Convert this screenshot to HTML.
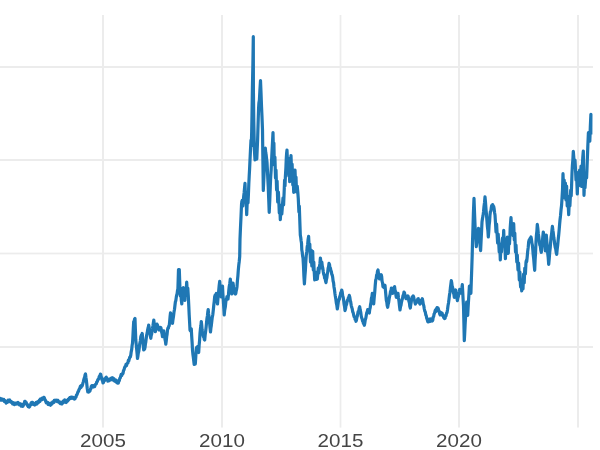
<!DOCTYPE html>
<html lang="en">
<head>
<meta charset="utf-8">
<title>Price chart</title>
<style>
html,body{margin:0;padding:0;background:#fff;}
body{width:600px;height:450px;overflow:hidden;font-family:"Liberation Sans",sans-serif;}
svg{display:block;will-change:transform;}
.series{fill:none;stroke:#1f77b4;stroke-width:3.2;stroke-linejoin:round;stroke-linecap:butt;}
.ticks text{font-family:"Liberation Sans",sans-serif;font-size:18.9px;fill:#454545;}
</style>
</head>
<body>
<svg width="600" height="450" viewBox="0 0 600 450">
<rect width="600" height="450" fill="#ffffff"/>
<g class="grid"><g fill="#f8f8f8"><rect x="339" y="15" width="3" height="412.5"/><rect x="0" y="252" width="593" height="3"/></g><g fill="#ececec"><rect x="102" y="15" width="2" height="412.5"/><rect x="221" y="15" width="2" height="412.5"/><rect x="340" y="15" width="1" height="412.5"/><rect x="458" y="15" width="2" height="412.5"/><rect x="577" y="15" width="2" height="412.5"/><rect x="0" y="66" width="593" height="2"/><rect x="0" y="159" width="593" height="2"/><rect x="0" y="253" width="593" height="1"/><rect x="0" y="346" width="593" height="2"/></g></g>
<path class="series" d="M-3.0,397.0 L-2.6,396.7 L-2.1,398.1 L-1.7,397.2 L-1.3,398.7 L-0.9,397.9 L-0.4,399.5 L0.0,399.2 L0.5,398.8 L0.9,400.1 L1.4,399.0 L1.9,400.2 L2.4,399.1 L2.8,400.1 L3.3,399.7 L3.8,399.5 L4.3,401.4 L4.8,400.5 L5.2,401.8 L5.7,401.0 L6.2,403.1 L6.7,402.5 L7.2,401.4 L7.7,402.2 L8.2,400.2 L8.7,401.1 L9.2,400.3 L9.7,399.9 L10.2,401.7 L10.7,401.2 L11.2,402.5 L11.7,402.5 L12.2,402.2 L12.6,403.9 L13.1,402.7 L13.6,404.2 L14.1,402.9 L14.5,404.6 L15.0,404.2 L15.5,403.2 L16.0,404.1 L16.5,403.1 L17.0,403.8 L17.5,403.0 L18.0,402.5 L18.4,404.2 L18.9,403.3 L19.4,404.9 L19.8,403.7 L20.3,405.2 L20.8,404.0 L21.2,406.1 L21.7,405.5 L22.2,404.9 L22.8,406.3 L23.3,405.5 L23.8,403.6 L24.2,403.3 L24.7,401.3 L25.2,401.3 L25.7,403.2 L26.2,402.6 L26.7,404.2 L27.2,405.1 L27.7,404.8 L28.2,406.6 L28.7,406.0 L29.2,407.0 L29.7,406.6 L30.2,404.9 L30.7,404.9 L31.2,402.7 L31.7,402.5 L32.2,403.6 L32.7,402.5 L33.2,404.4 L33.7,403.5 L34.2,404.7 L34.7,405.1 L35.1,403.3 L35.6,404.4 L36.1,402.5 L36.6,404.1 L37.0,402.1 L37.5,402.5 L38.0,402.9 L38.4,401.3 L38.9,402.1 L39.4,400.1 L39.9,401.5 L40.3,399.2 L40.8,399.7 L41.3,399.9 L41.8,398.4 L42.3,399.6 L42.7,398.1 L43.2,398.8 L43.7,397.3 L44.2,397.5 L44.7,399.2 L45.3,400.0 L45.8,401.7 L46.3,402.9 L46.7,401.9 L47.2,403.2 L47.7,402.4 L48.1,404.3 L48.6,403.3 L49.1,404.7 L49.5,403.7 L50.0,404.7 L50.5,405.2 L50.9,403.1 L51.4,404.4 L51.9,402.6 L52.4,403.4 L52.8,401.8 L53.3,402.0 L53.8,402.6 L54.3,400.3 L54.8,401.4 L55.3,400.2 L55.8,400.3 L56.3,401.0 L56.8,400.2 L57.3,401.6 L57.8,400.3 L58.3,401.3 L58.7,402.2 L59.2,401.6 L59.6,402.9 L60.0,402.1 L60.4,403.7 L60.9,402.4 L61.3,403.7 L61.8,404.0 L62.3,402.1 L62.8,403.0 L63.2,401.0 L63.7,401.6 L64.2,400.8 L64.7,399.9 L65.2,402.1 L65.7,400.3 L66.2,402.5 L66.7,401.7 L67.2,400.5 L67.7,400.9 L68.2,399.3 L68.7,399.6 L69.2,398.3 L69.7,397.7 L70.1,398.5 L70.6,397.4 L71.1,398.4 L71.6,397.1 L72.0,398.1 L72.5,397.5 L73.0,397.4 L73.5,398.5 L74.0,397.8 L74.5,399.1 L75.0,398.7 L75.5,397.3 L76.0,397.2 L76.5,394.9 L77.0,394.7 L77.5,393.3 L78.0,391.8 L78.5,391.4 L79.0,389.4 L79.5,389.0 L80.0,387.5 L80.5,386.1 L81.0,387.5 L81.5,385.4 L82.0,386.2 L82.5,385.0 L82.9,383.1 L83.3,381.9 L83.8,379.6 L84.2,378.3 L84.6,377.2 L85.1,374.7 L85.5,373.9 L85.9,377.3 L86.3,380.0 L86.7,383.3 L87.2,388.2 L87.8,392.0 L88.2,391.0 L88.7,392.0 L89.1,390.5 L89.6,391.4 L90.0,390.8 L90.4,389.1 L90.8,389.0 L91.3,386.4 L91.7,385.8 L92.2,386.9 L92.7,385.6 L93.2,387.0 L93.7,386.0 L94.2,386.7 L94.7,386.6 L95.3,384.4 L95.8,384.2 L96.3,383.9 L96.8,381.7 L97.3,381.6 L97.8,379.5 L98.3,379.2 L98.7,379.1 L99.2,376.6 L99.6,377.1 L100.0,375.5 L100.4,374.1 L100.8,374.5 L101.2,376.8 L101.7,377.6 L102.1,380.1 L102.6,380.9 L103.0,383.0 L103.5,382.4 L103.9,380.9 L104.4,380.7 L104.9,378.9 L105.3,379.1 L105.8,377.5 L106.3,377.2 L106.8,379.4 L107.3,378.6 L107.8,381.1 L108.3,380.8 L108.8,379.4 L109.3,380.7 L109.8,379.2 L110.2,379.9 L110.7,378.5 L111.2,379.2 L111.7,378.3 L112.2,377.7 L112.6,379.9 L113.1,378.1 L113.5,380.2 L114.0,378.8 L114.4,380.9 L114.9,379.8 L115.3,381.4 L115.8,380.8 L116.3,380.3 L116.8,382.6 L117.3,381.3 L117.8,383.2 L118.3,383.0 L118.8,381.2 L119.3,380.8 L119.8,378.3 L120.3,377.9 L120.8,375.8 L121.2,374.4 L121.7,375.6 L122.1,374.0 L122.5,374.2 L123.0,373.4 L123.5,370.6 L124.0,370.0 L124.5,367.9 L125.0,366.7 L125.5,366.5 L126.0,364.4 L126.5,365.5 L127.0,363.5 L127.5,363.3 L127.9,363.0 L128.3,360.4 L128.8,360.9 L129.2,359.2 L129.7,357.3 L130.3,357.0 L130.8,355.0 L131.2,351.8 L131.7,349.4 L132.1,345.6 L132.5,343.3 L132.9,336.6 L133.3,328.5 L133.7,321.7 L134.1,321.5 L134.6,319.0 L135.0,318.5 L135.4,329.8 L135.8,340.0 L136.2,344.1 L136.7,349.5 L137.1,353.6 L137.5,358.5 L137.9,356.3 L138.3,353.1 L138.8,351.3 L139.2,348.3 L139.7,344.1 L140.3,341.0 L140.8,336.7 L141.3,335.2 L141.7,335.4 L142.2,333.5 L142.7,338.6 L143.2,344.9 L143.7,350.0 L144.1,348.5 L144.6,349.2 L145.0,347.5 L145.4,344.0 L145.8,341.9 L146.3,337.7 L146.7,335.0 L147.2,333.0 L147.7,329.5 L148.2,327.8 L148.7,325.0 L149.1,327.2 L149.5,330.7 L150.0,332.7 L150.4,336.2 L150.8,338.3 L151.2,335.5 L151.7,333.8 L152.1,330.2 L152.5,328.3 L152.9,326.0 L153.4,322.4 L153.8,320.0 L154.3,324.4 L154.8,327.3 L155.3,331.7 L155.7,330.5 L156.2,327.6 L156.6,326.6 L157.0,324.2 L157.4,324.9 L157.9,327.0 L158.3,326.9 L158.8,329.4 L159.2,330.0 L159.7,328.4 L160.3,329.2 L160.8,327.5 L161.2,329.1 L161.7,332.6 L162.1,333.9 L162.5,336.7 L162.9,335.2 L163.3,332.3 L163.7,330.8 L164.1,334.0 L164.5,335.7 L165.0,339.3 L165.4,341.1 L165.8,344.2 L166.2,341.3 L166.7,336.6 L167.1,334.2 L167.5,330.0 L167.9,328.1 L168.3,328.4 L168.8,326.2 L169.2,325.8 L169.6,322.1 L170.1,316.5 L170.5,312.8 L171.0,315.8 L171.5,317.7 L172.0,321.2 L172.5,323.3 L173.0,319.4 L173.5,316.3 L174.0,312.0 L174.5,309.2 L175.0,305.0 L175.4,301.8 L175.8,300.7 L176.3,297.1 L176.7,295.0 L177.1,293.7 L177.5,290.4 L177.9,289.0 L178.5,269.6 L178.9,270.3 L179.3,269.6 L179.9,287.0 L180.3,296.0 L180.8,288.0 L181.3,300.0 L181.8,304.0 L182.3,290.0 L182.8,298.0 L183.3,287.5 L183.8,297.0 L184.3,289.0 L184.9,300.5 L185.4,290.0 L186.0,296.0 L186.3,288.5 L186.7,282.2 L187.3,292.0 L187.8,288.0 L188.3,296.0 L188.8,306.1 L189.2,315.0 L189.6,322.2 L190.0,330.0 L190.4,330.9 L190.9,328.6 L191.3,329.0 L191.7,336.4 L192.1,342.4 L192.5,350.0 L192.9,354.2 L193.3,357.0 L193.8,361.3 L194.2,364.5 L194.8,363.4 L195.3,364.0 L195.8,356.5 L196.3,348.3 L196.7,347.3 L197.1,347.8 L197.5,346.7 L197.9,348.1 L198.3,350.8 L198.7,352.5 L199.1,345.7 L199.6,340.1 L200.0,333.3 L200.4,329.1 L200.9,325.8 L201.3,321.5 L201.7,324.9 L202.1,329.8 L202.5,333.3 L202.9,334.3 L203.4,336.8 L203.8,336.6 L204.3,339.5 L204.7,340.0 L205.2,334.7 L205.8,330.0 L206.2,326.4 L206.6,321.9 L207.0,318.3 L207.4,316.0 L207.8,312.1 L208.2,309.5 L208.6,313.9 L209.1,317.2 L209.5,321.7 L210.0,327.5 L210.5,332.0 L210.9,328.1 L211.3,325.7 L211.7,322.0 L212.2,317.7 L212.8,314.7 L213.3,310.0 L213.8,305.0 L214.2,301.6 L214.7,296.5 L215.2,295.1 L215.8,294.9 L216.3,293.5 L216.7,296.4 L217.1,301.0 L217.5,304.0 L217.9,299.3 L218.3,295.9 L218.7,290.8 L219.2,285.5 L219.7,281.4 L220.2,287.2 L220.8,291.5 L221.3,297.0 L221.7,294.0 L222.1,289.4 L222.5,286.0 L222.9,293.9 L223.3,300.1 L223.8,308.1 L224.2,315.0 L224.7,310.2 L225.3,307.0 L225.8,302.0 L226.2,299.7 L226.6,298.7 L227.0,296.5 L227.5,297.1 L228.0,299.0 L228.4,295.3 L228.8,290.5 L229.2,286.7 L229.8,283.2 L230.3,279.0 L230.8,283.7 L231.2,289.3 L231.7,294.0 L232.1,289.9 L232.6,287.1 L233.0,283.0 L233.4,285.7 L233.8,290.1 L234.2,293.0 L234.7,292.1 L235.3,294.0 L235.8,293.5 L236.2,290.8 L236.6,289.3 L237.0,286.7 L237.4,280.8 L237.9,275.8 L238.3,270.0 L238.8,264.9 L239.2,261.7 L239.7,256.7 L240.0,239.0 L240.5,227.3 L241.0,216.9 L241.5,205.0 L241.8,201.8 L242.2,200.5 L242.8,206.0 L243.2,201.9 L243.7,196.2 L244.1,193.0 L244.6,187.3 L245.0,183.4 L245.6,200.0 L246.0,192.0 L246.3,204.0 L246.7,214.6 L247.1,204.8 L247.5,196.0 L248.0,203.0 L248.4,194.6 L248.8,184.3 L249.2,176.0 L249.6,168.9 L250.0,160.0 L250.5,149.5 L251.0,140.0 L251.3,146.0 L251.7,131.3 L252.0,115.0 L252.4,88.1 L252.9,63.6 L253.3,36.7 L253.4,90.0 L253.8,122.0 L254.4,150.0 L255.0,159.8 L255.5,157.2 L256.0,156.0 L256.4,158.2 L256.8,159.0 L257.2,149.1 L257.6,140.0 L258.2,120.0 L258.6,108.0 L258.9,103.0 L259.4,100.0 L259.9,90.7 L260.5,80.5 L261.0,92.5 L261.5,106.1 L262.0,117.1 L262.5,130.0 L262.9,160.6 L263.3,190.5 L263.8,179.5 L264.3,170.0 L264.8,157.8 L265.3,148.0 L265.7,152.3 L266.1,154.5 L266.6,159.0 L267.0,162.0 L267.4,169.5 L267.8,178.6 L268.2,186.0 L268.7,198.8 L269.2,212.3 L269.8,199.7 L270.3,186.0 L270.7,176.9 L271.2,169.5 L271.6,160.0 L272.1,149.9 L272.5,142.3 L273.0,132.5 L273.4,150.0 L273.9,143.0 L274.3,165.0 L274.9,157.0 L275.5,178.0 L276.0,170.0 L276.6,190.0 L277.1,181.0 L277.7,202.0 L278.0,196.6 L278.4,192.0 L278.9,203.3 L279.3,213.0 L279.8,207.0 L280.3,219.6 L280.8,211.8 L281.3,205.0 L281.8,214.0 L282.2,209.2 L282.6,203.0 L283.0,198.0 L283.6,205.0 L284.1,193.0 L284.6,180.0 L285.0,186.0 L285.4,176.1 L285.9,167.9 L286.3,158.0 L286.6,153.5 L287.0,150.0 L287.6,165.0 L288.1,158.0 L288.5,167.6 L288.8,176.0 L289.2,168.0 L289.7,181.6 L290.3,166.0 L290.6,160.5 L291.0,155.6 L291.6,172.0 L292.1,164.0 L292.5,174.9 L292.8,185.0 L293.2,176.0 L293.7,192.3 L294.3,178.0 L294.6,173.6 L295.0,170.0 L295.6,184.0 L296.0,177.0 L296.5,192.0 L296.9,189.6 L297.2,186.0 L297.8,192.2 L298.3,199.0 L298.9,212.0 L299.3,206.0 L299.8,220.8 L300.3,235.0 L300.7,237.2 L301.1,240.8 L301.5,243.0 L301.8,250.0 L302.2,252.0 L302.6,255.9 L303.0,258.0 L303.5,266.1 L303.9,275.9 L304.4,284.0 L304.9,276.2 L305.4,270.2 L305.8,261.8 L306.3,255.0 L306.8,251.7 L307.2,246.7 L307.7,244.2 L308.1,239.4 L308.6,236.4 L309.0,243.8 L309.3,250.0 L309.8,244.0 L310.1,252.7 L310.5,262.0 L310.9,256.7 L311.2,250.0 L311.8,266.0 L312.2,258.0 L312.7,251.4 L313.3,270.0 L313.8,262.0 L314.2,271.5 L314.7,279.9 L315.1,275.3 L315.5,272.0 L315.9,276.4 L316.2,279.5 L316.8,278.6 L317.3,279.0 L317.8,274.0 L318.3,268.0 L318.8,273.0 L319.3,267.5 L319.9,263.7 L320.4,258.0 L320.9,262.3 L321.3,268.0 L321.8,262.0 L322.3,266.1 L322.8,268.1 L323.3,272.0 L323.8,274.6 L324.2,274.8 L324.6,278.0 L325.1,278.6 L325.6,281.2 L326.0,282.6 L326.4,279.5 L326.9,277.6 L327.3,274.0 L327.7,272.4 L328.1,268.3 L328.6,266.8 L329.0,263.4 L329.5,264.4 L329.9,267.6 L330.4,268.0 L330.9,270.7 L331.3,271.3 L331.8,274.6 L332.2,274.9 L332.7,277.3 L333.1,281.0 L333.6,282.9 L334.0,287.0 L334.4,289.1 L334.9,293.3 L335.3,296.0 L335.8,298.9 L336.3,302.9 L336.8,305.1 L337.3,309.0 L337.8,305.9 L338.3,302.0 L338.8,299.6 L339.3,299.4 L339.8,296.3 L340.2,295.7 L340.7,292.8 L341.2,292.4 L341.7,290.0 L342.2,292.0 L342.7,296.0 L343.2,297.4 L343.7,300.7 L344.1,304.3 L344.6,307.0 L345.0,310.6 L345.5,308.9 L346.0,305.6 L346.5,304.6 L347.0,302.0 L347.5,300.0 L347.9,299.7 L348.4,297.7 L348.8,297.2 L349.3,295.4 L349.8,297.1 L350.3,300.8 L350.7,301.9 L351.2,305.3 L351.7,307.3 L352.2,308.7 L352.7,311.8 L353.2,312.8 L353.7,315.3 L354.2,316.9 L354.6,316.9 L355.1,319.3 L355.5,319.2 L356.0,321.3 L356.4,320.2 L356.9,317.4 L357.3,316.3 L357.7,314.0 L358.2,311.4 L358.7,311.2 L359.2,308.0 L359.7,306.7 L360.2,309.9 L360.7,312.0 L361.2,315.9 L361.7,318.0 L362.1,318.8 L362.6,321.1 L363.0,321.3 L363.4,323.5 L363.9,323.2 L364.3,325.3 L364.8,323.1 L365.3,319.6 L365.8,318.3 L366.3,315.3 L366.8,312.6 L367.2,312.1 L367.7,309.5 L368.2,310.2 L368.8,312.7 L369.3,313.0 L369.7,309.7 L370.2,307.7 L370.6,304.3 L371.0,302.3 L371.4,298.5 L371.9,296.6 L372.3,293.4 L372.8,296.6 L373.2,300.9 L373.7,304.0 L374.2,297.6 L374.7,292.6 L375.2,285.7 L375.7,280.0 L376.2,278.7 L376.6,275.2 L377.1,274.4 L377.5,271.2 L378.0,270.0 L378.5,273.7 L379.0,275.2 L379.5,279.0 L379.9,278.5 L380.4,276.2 L380.9,276.4 L381.3,274.7 L381.7,276.9 L382.1,281.3 L382.6,283.2 L383.0,286.7 L383.5,287.2 L384.0,285.2 L384.5,286.2 L385.0,285.3 L385.4,289.9 L385.9,295.7 L386.3,300.0 L386.8,302.0 L387.2,305.6 L387.7,307.3 L388.2,304.1 L388.7,302.1 L389.2,298.3 L389.7,296.0 L390.1,294.4 L390.5,291.5 L391.0,290.8 L391.4,288.0 L391.8,289.0 L392.3,292.3 L392.7,293.3 L393.2,291.0 L393.6,290.8 L394.1,287.5 L394.6,286.7 L395.0,289.9 L395.5,291.4 L395.9,294.9 L396.3,297.3 L396.7,295.5 L397.1,295.9 L397.6,293.5 L398.0,293.3 L398.5,298.0 L399.0,301.3 L399.5,306.1 L400.0,310.0 L400.5,306.8 L401.0,305.3 L401.5,302.0 L402.0,300.0 L402.5,298.5 L403.0,295.5 L403.5,294.7 L404.0,292.0 L404.5,292.8 L405.0,295.8 L405.5,296.3 L406.0,298.7 L406.5,298.7 L407.0,296.5 L407.5,297.4 L408.0,296.0 L408.5,298.0 L408.9,301.2 L409.4,302.8 L409.8,306.3 L410.3,308.0 L410.8,304.4 L411.2,302.2 L411.7,298.7 L412.2,296.8 L412.8,298.0 L413.3,296.0 L413.7,297.0 L414.1,299.6 L414.6,300.4 L415.0,302.7 L415.4,304.0 L415.9,302.5 L416.4,302.7 L416.9,300.8 L417.3,301.0 L417.8,298.8 L418.3,298.7 L418.7,300.9 L419.1,300.6 L419.6,303.2 L420.0,304.0 L420.5,302.3 L420.9,302.6 L421.4,300.2 L421.8,300.3 L422.3,298.7 L422.8,301.0 L423.3,304.3 L423.8,305.7 L424.3,309.0 L424.8,311.1 L425.3,312.0 L425.8,315.0 L426.2,315.4 L426.7,318.3 L427.2,319.3 L427.7,321.5 L428.1,321.9 L428.6,320.2 L429.0,321.6 L429.4,319.2 L429.9,321.5 L430.3,320.0 L430.8,319.0 L431.3,321.0 L431.8,320.2 L432.3,321.0 L432.8,320.1 L433.2,317.0 L433.6,316.7 L434.1,313.9 L434.6,313.2 L435.0,311.3 L435.4,310.1 L435.9,311.5 L436.3,308.8 L436.7,310.5 L437.1,307.7 L437.6,309.1 L438.0,308.0 L438.4,309.1 L438.9,311.4 L439.3,311.9 L439.7,314.0 L440.2,314.9 L440.7,312.2 L441.2,314.4 L441.7,313.0 L442.2,313.2 L442.7,315.7 L443.1,315.2 L443.6,317.4 L444.1,317.3 L444.6,318.6 L445.1,318.2 L445.6,315.8 L446.0,315.9 L446.5,313.2 L447.0,312.7 L447.5,309.8 L448.0,305.7 L448.5,303.0 L449.0,299.3 L449.5,295.0 L449.9,292.5 L450.4,287.8 L450.8,284.7 L451.3,280.7 L451.7,282.5 L452.1,285.9 L452.6,287.2 L453.0,290.0 L453.4,292.8 L453.9,294.3 L454.3,297.3 L454.8,295.2 L455.2,292.0 L455.7,290.0 L456.1,293.2 L456.5,294.5 L457.0,298.5 L457.4,300.6 L457.9,297.6 L458.3,296.7 L458.8,293.5 L459.2,292.1 L459.7,289.4 L460.1,289.7 L460.6,292.6 L461.0,293.0 L461.4,289.8 L461.9,287.8 L462.3,284.7 L462.7,291.3 L463.1,299.4 L463.5,306.0 L463.9,322.9 L464.3,340.6 L464.7,333.4 L465.1,325.0 L465.5,318.0 L465.9,313.3 L466.3,307.0 L466.7,302.0 L467.2,309.0 L467.7,315.5 L468.1,307.7 L468.5,301.2 L469.0,292.8 L469.4,286.0 L469.9,288.8 L470.4,290.2 L470.9,293.3 L471.3,281.1 L471.8,267.3 L472.2,255.0 L472.5,242.9 L472.9,230.0 L473.4,213.4 L474.0,198.4 L474.5,212.1 L475.0,225.0 L475.4,231.5 L475.9,239.8 L476.3,246.6 L476.7,242.5 L477.2,240.0 L477.6,235.2 L478.1,232.9 L478.5,228.4 L478.9,232.3 L479.3,237.7 L479.8,241.3 L480.2,246.7 L480.6,250.6 L481.1,240.5 L481.5,232.3 L482.0,222.0 L482.5,218.3 L483.0,215.9 L483.5,212.0 L484.0,206.5 L484.5,202.7 L485.0,196.8 L485.5,202.5 L486.0,209.3 L486.5,215.0 L486.9,220.2 L487.4,226.5 L487.9,230.7 L488.3,237.0 L488.7,232.3 L489.1,225.3 L489.6,221.3 L490.0,215.0 L490.4,211.8 L490.9,210.9 L491.3,207.6 L491.7,205.7 L492.2,207.7 L492.7,204.6 L493.2,207.0 L493.7,206.5 L494.1,208.6 L494.6,212.7 L495.0,215.0 L495.5,223.0 L496.0,232.0 L496.6,224.0 L497.1,233.9 L497.6,243.0 L498.2,234.0 L498.7,242.6 L499.2,252.0 L499.7,244.0 L500.3,260.0 L500.6,253.3 L501.0,246.0 L501.5,252.0 L502.0,244.6 L502.5,238.0 L503.0,244.0 L503.4,237.6 L503.7,230.4 L504.3,246.0 L504.8,240.0 L505.4,258.6 L505.8,249.6 L506.2,242.0 L506.7,248.0 L507.3,237.0 L507.8,245.5 L508.3,253.3 L508.6,245.9 L509.0,240.0 L509.5,244.0 L509.9,236.4 L510.2,228.0 L510.6,222.4 L511.0,217.7 L511.4,225.6 L511.8,232.0 L512.1,228.2 L512.5,226.0 L512.9,231.5 L513.2,236.0 L513.7,223.7 L514.3,240.0 L514.8,233.0 L515.1,242.2 L515.5,252.0 L516.0,245.0 L516.4,254.0 L516.8,262.0 L517.3,255.0 L517.6,262.1 L518.0,270.0 L518.6,263.0 L519.0,272.2 L519.3,280.0 L519.9,272.0 L520.2,279.2 L520.6,287.0 L521.2,280.0 L521.7,291.0 L522.0,286.4 L522.4,281.0 L523.0,289.0 L523.6,274.0 L524.2,283.0 L524.8,268.0 L525.4,274.0 L526.0,262.0 L526.4,260.3 L526.7,261.7 L527.2,257.0 L527.7,251.2 L528.2,247.4 L528.7,241.7 L529.2,239.8 L529.6,240.3 L530.1,238.4 L530.5,238.4 L531.0,237.0 L531.4,239.0 L531.9,243.1 L532.3,244.8 L532.7,248.3 L533.2,254.5 L533.7,258.9 L534.2,265.2 L534.7,270.3 L535.1,260.1 L535.6,251.8 L536.0,241.7 L536.4,235.5 L536.9,230.8 L537.3,224.4 L537.8,228.2 L538.3,233.5 L538.8,237.1 L539.3,241.7 L539.8,245.1 L540.3,246.1 L540.8,250.3 L541.3,252.3 L541.8,246.4 L542.3,242.4 L542.8,236.7 L543.3,232.0 L543.7,234.6 L544.1,235.1 L544.5,238.0 L544.9,245.3 L545.3,251.0 L545.8,242.5 L546.3,235.0 L546.8,241.3 L547.3,246.2 L547.7,253.1 L548.2,257.7 L548.7,264.3 L549.2,259.0 L549.7,252.3 L550.2,248.0 L550.7,241.7 L551.1,237.1 L551.5,234.8 L552.0,229.6 L552.4,226.4 L552.9,230.5 L553.3,233.1 L553.8,237.6 L554.2,240.0 L554.7,244.3 L555.2,247.2 L555.7,248.9 L556.2,252.6 L556.7,254.3 L557.2,249.1 L557.7,245.0 L558.2,239.5 L558.7,235.0 L559.1,230.6 L559.6,224.5 L560.0,220.0 L560.5,215.9 L561.1,209.2 L561.6,205.0 L562.0,198.3 L562.5,190.0 L563.0,173.7 L563.6,190.0 L564.2,180.0 L564.8,198.0 L565.4,183.0 L566.0,200.0 L566.6,186.0 L567.2,206.0 L567.8,196.0 L568.2,204.9 L568.7,214.6 L569.0,207.6 L569.4,200.0 L569.9,206.0 L570.3,197.7 L570.7,190.0 L571.2,196.0 L571.6,185.2 L572.0,173.3 L572.4,165.3 L572.9,159.3 L573.3,151.4 L573.8,157.7 L574.3,165.0 L574.6,163.1 L575.0,160.0 L575.5,169.3 L576.0,180.0 L576.5,172.0 L576.9,183.7 L577.3,194.0 L577.6,185.3 L578.0,178.0 L578.6,186.0 L579.1,178.8 L579.6,170.0 L580.2,182.0 L580.6,173.3 L581.0,166.0 L581.6,186.5 L582.0,176.1 L582.4,165.0 L582.8,157.2 L583.3,151.1 L583.7,175.0 L584.0,195.3 L584.6,182.0 L585.0,188.0 L585.5,181.1 L586.0,173.3 L586.6,178.0 L587.0,168.4 L587.3,160.0 L587.8,146.9 L588.4,132.7 L588.9,134.6 L589.3,138.9 L589.8,141.2 L590.3,127.3 L590.9,114.3 L590.8,134.5"/>
<g class="ticks"><text x="103" y="447" text-anchor="middle" textLength="45.8" lengthAdjust="spacingAndGlyphs">2005</text><text x="222" y="447" text-anchor="middle" textLength="45.8" lengthAdjust="spacingAndGlyphs">2010</text><text x="340.5" y="447" text-anchor="middle" textLength="45.8" lengthAdjust="spacingAndGlyphs">2015</text><text x="459" y="447" text-anchor="middle" textLength="45.8" lengthAdjust="spacingAndGlyphs">2020</text></g>
</svg>
</body>
</html>
